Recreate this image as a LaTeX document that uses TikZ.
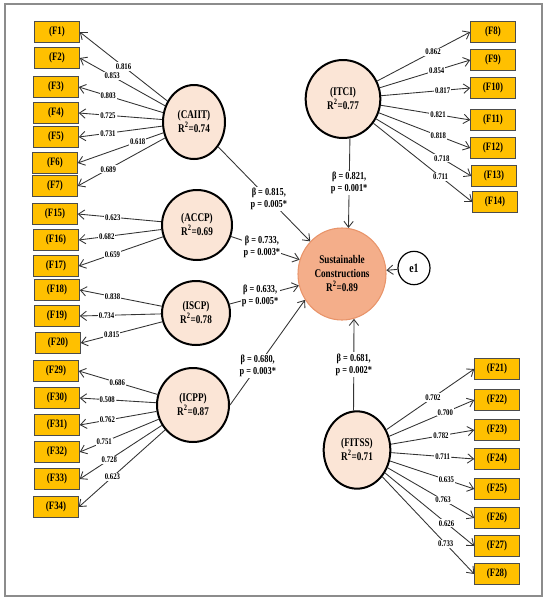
\documentclass[tikz,border=0pt]{standalone}
\usepackage{fontspec}
\setmainfont{Liberation Serif}
\newfontfamily\narrowserif[FakeStretch=0.78]{Liberation Serif}
\usepackage{xcolor}
\usepackage{tikz}
\usetikzlibrary{arrows.meta,shapes.geometric}

\definecolor{itemfill}{HTML}{FFC000}
\definecolor{latfill}{HTML}{FBE5D6}
\definecolor{susfill}{HTML}{F4AE8A}
\definecolor{susline}{HTML}{E8946A}
\definecolor{framegray}{HTML}{8C8C8C}

\begin{document}
\begin{tikzpicture}[
  x=0.75pt, y=-0.75pt,
  ind/.style={draw=black!70, fill=itemfill, minimum width=33.75pt, minimum height=16pt, inner sep=1pt, font=\narrowserif\bfseries\fontsize{8.5}{10}\selectfont},
  lat/.style={ellipse, draw, line width=1.5pt, fill=latfill, align=center, inner sep=0pt, font=\narrowserif\bfseries\fontsize{8.8}{10.5}\selectfont},
  lbl/.style={fill=white, inner sep=0.8pt, font=\narrowserif\bfseries\fontsize{6.5}{7.5}\selectfont},
  path/.style={fill=white, inner sep=1pt, align=center, font=\narrowserif\bfseries\fontsize{8}{9}\selectfont},
  arr/.style={-{Straight Barb[length=4.5pt,width=7pt]}, line width=0.65pt, draw=black!80}
]
\useasboundingbox (0,0) rectangle (550,601);
\draw[framegray, line width=1.1pt] (5,4) rectangle (542,596);

% latent constructs
\node[lat, minimum width=46.5pt, minimum height=55.5pt] (caiit) at (194,122) {(CAIIT)\\R\textsuperscript{2}=0.74};
\node[lat, minimum width=52.5pt, minimum height=52.5pt] (accp) at (197,225) {(ACCP)\\R\textsuperscript{2}=0.69};
\node[lat, minimum width=51pt, minimum height=48pt] (iscp) at (196,313) {(ISCP)\\R\textsuperscript{2}=0.78};
\node[lat, minimum width=54pt, minimum height=55.5pt] (icpp) at (193,405) {(ICPP)\\R\textsuperscript{2}=0.87};
\node[lat, minimum width=56pt, minimum height=58.5pt] (itci) at (343,99) {(ITCI)\\R\textsuperscript{2}=0.77};
\node[lat, minimum width=50pt, minimum height=58pt] (fitss) at (357,450) {(FITSS)\\R\textsuperscript{2}=0.71};
\node[lat, draw=susline, line width=0.8pt, fill=susfill, minimum width=66pt, minimum height=69pt] (sus) at (342,274) {Sustainable\\Constructions\\R\textsuperscript{2}=0.89};
\node[ellipse, draw, line width=0.9pt, fill=white, minimum width=24pt, minimum height=25pt, font=\narrowserif\bfseries\fontsize{9.5}{11}\selectfont] (e1) at (414,268) {e1};

% items, left
\node[ind] (f1) at (57,32) {(F1)};
\node[ind] (f2) at (57,58) {(F2)};
\node[ind] (f3) at (56,87) {(F3)};
\node[ind] (f4) at (56,113) {(F4)};
\node[ind] (f5) at (56,137) {(F5)};
\node[ind] (f6) at (55,163) {(F6)};
\node[ind] (f7) at (55,186) {(F7)};
\node[ind] (f15) at (55,214) {(F15)};
\node[ind] (f16) at (56,240) {(F16)};
\node[ind] (f17) at (56,266) {(F17)};
\node[ind] (f18) at (57,290) {(F18)};
\node[ind] (f19) at (57,316) {(F19)};
\node[ind] (f20) at (58,343) {(F20)};
\node[ind] (f29) at (56,371) {(F29)};
\node[ind] (f30) at (57,398) {(F30)};
\node[ind] (f31) at (57,425) {(F31)};
\node[ind] (f32) at (57,452) {(F32)};
\node[ind] (f33) at (57,479) {(F33)};
\node[ind] (f34) at (56,507) {(F34)};

% items, right
\node[ind] (f8) at (493,32) {(F8)};
\node[ind] (f9) at (493,60) {(F9)};
\node[ind] (f10) at (493,88) {(F10)};
\node[ind] (f11) at (493,120) {(F11)};
\node[ind] (f12) at (493,148) {(F12)};
\node[ind] (f13) at (494,176) {(F13)};
\node[ind] (f14) at (495,202) {(F14)};
\node[ind] (f21) at (497,369) {(F21)};
\node[ind] (f22) at (497,400) {(F22)};
\node[ind] (f23) at (497,430) {(F23)};
\node[ind] (f24) at (497,459) {(F24)};
\node[ind] (f25) at (497,489) {(F25)};
\node[ind] (f26) at (497,518) {(F26)};
\node[ind] (f27) at (497,546) {(F27)};
\node[ind] (f28) at (497,574) {(F28)};

% loadings
\draw[arr] (caiit) -- node[lbl, pos=0.5]{0.816} (f1.east);
\draw[arr] (caiit) -- node[lbl, pos=0.62]{0.853} (f2.east);
\draw[arr] (caiit) -- node[lbl, pos=0.65]{0.803} (f3.east);
\draw[arr] (caiit) -- node[lbl, pos=0.65]{0.725} (f4.east);
\draw[arr] (caiit) -- node[lbl, pos=0.65]{0.731} (f5.east);
\draw[arr] (caiit) -- node[lbl, pos=0.3]{0.618} (f6.east);
\draw[arr] (caiit) -- node[lbl, pos=0.65]{0.689} (f7.east);
\draw[arr] (accp) -- node[lbl, pos=0.58]{0.623} (f15.east);
\draw[arr] (accp) -- node[lbl, pos=0.66]{0.682} (f16.east);
\draw[arr] (accp) -- node[lbl, pos=0.6]{0.659} (f17.east);
\draw[arr] (iscp) -- node[lbl, pos=0.6]{0.838} (f18.east);
\draw[arr] (iscp) -- node[lbl, pos=0.67]{0.734} (f19.east);
\draw[arr] (iscp) -- node[lbl, pos=0.62]{0.815} (f20.east);
\draw[arr] (icpp) -- node[lbl, pos=0.51]{0.686} (f29.east);
\draw[arr] (icpp) -- node[lbl, pos=0.64]{0.508} (f30.east);
\draw[arr] (icpp) -- node[lbl, pos=0.64]{0.762} (f31.east);
\draw[arr] (icpp) -- node[lbl, pos=0.69]{0.751} (f32.east);
\draw[arr] (icpp) -- node[lbl, pos=0.64]{0.728} (f33.east);
\draw[arr] (icpp) -- node[lbl, pos=0.61]{0.623} (f34.east);
\draw[arr] (itci) -- node[lbl, pos=0.6]{0.862} (f8.west);
\draw[arr] (itci) -- node[lbl, pos=0.63]{0.854} (f9.west);
\draw[arr] (itci) -- node[lbl, pos=0.69]{0.817} (f10.west);
\draw[arr] (itci) -- node[lbl, pos=0.64]{0.821} (f11.west);
\draw[arr] (itci) -- node[lbl, pos=0.65]{0.818} (f12.west);
\draw[arr] (itci) -- node[lbl, pos=0.69]{0.718} (f13.west);
\draw[arr] (itci) -- node[lbl, pos=0.68]{0.711} (f14.west);
\draw[arr] (fitss) -- node[lbl, pos=0.53]{0.702} (f21.west);
\draw[arr] (fitss) -- node[lbl, pos=0.66]{0.700} (f22.west);
\draw[arr] (fitss) -- node[lbl, pos=0.6]{0.782} (f23.west);
\draw[arr] (fitss) -- node[lbl, pos=0.62]{0.711} (f24.west);
\draw[arr] (fitss) -- node[lbl, pos=0.67]{0.635} (f25.west);
\draw[arr] (fitss) -- node[lbl, pos=0.64]{0.763} (f26.west);
\draw[arr] (fitss) -- node[lbl, pos=0.69]{0.626} (f27.west);
\draw[arr] (fitss) -- node[lbl, pos=0.69]{0.733} (f28.west);

% paths to the outcome
\draw[arr] (caiit) -- node[path, pos=0.55]{β = 0.815,\\ p = 0.005*} (sus);
\draw[arr] (accp) -- node[path, pos=0.45]{β = 0.733,\\ p = 0.003*} (sus);
\draw[arr] (iscp) -- node[path, pos=0.44]{β = 0.633,\\ p = 0.005*} (sus);
\draw[arr] (icpp.east) -- node[path, pos=0.37]{β = 0.680,\\ p = 0.003*} (sus.215);
\draw[arr] (itci.-80) -- node[path, pos=0.5]{β = 0.821,\\ p = 0.001*} (sus.82);
\draw[arr] (fitss.95) -- node[path, pos=0.5]{β = 0.681,\\ p = 0.002*} (sus.-75);
\draw[arr] (e1) -- (sus);
\end{tikzpicture}
\end{document}
